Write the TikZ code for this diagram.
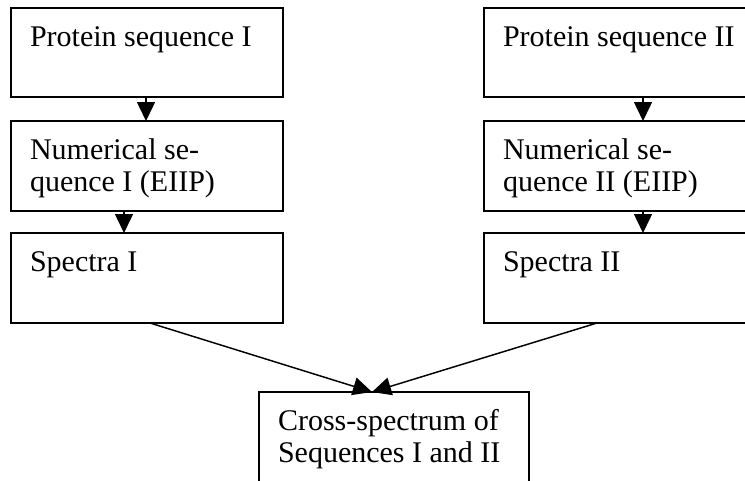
\documentclass[tikz,border=0pt]{standalone}
\usepackage{fontspec}
\setmainfont{Liberation Serif}
\usetikzlibrary{arrows.meta}
\begin{document}
\begin{tikzpicture}[x=0.75pt,y=-0.75pt,
  box/.style={draw,line width=1.4pt,rectangle,inner sep=0pt,outer sep=0pt},
  txt/.style={anchor=base west,inner sep=0pt,outer sep=0pt,align=left,
    font=\fontsize{22.5}{24}\selectfont,xshift=14.25pt,yshift=-28.5pt},
  txttwo/.style={txt,yshift=-24pt},
  arr/.style={line width=1.1pt,-{Triangle[length=14.25pt,width=13.5pt]}}]
\useasboundingbox[fill=white] (0,0) rectangle (745,480);
\node[box,minimum width=204pt,minimum height=66.75pt] (p1) at (147,52.5) {};
\node[box,minimum width=204pt,minimum height=67.5pt] (n1) at (147,166) {};
\node[box,minimum width=204pt,minimum height=67.5pt] (s1) at (147,278) {};
\node[box,minimum width=207pt,minimum height=66.75pt] (p2) at (622,52.5) {};
\node[box,minimum width=207pt,minimum height=67.5pt] (n2) at (622,166) {};
\node[box,minimum width=207pt,minimum height=67.5pt] (s2) at (622,278) {};
\node[box,minimum width=202.5pt,minimum height=81pt] (c) at (394,446) {};
\node[txt] (tp1) at (p1.north west) {Protein sequence I};
\node[txttwo] (tn1) at (n1.north west) {Numerical se-\\quence I (EIIP)};
\node[txt] (ts1) at (s1.north west) {Spectra I};
\node[txt] (tp2) at (p2.north west) {Protein sequence II};
\node[txttwo] (tn2) at (n2.north west) {Numerical se-\\quence II (EIIP)};
\node[txt] (ts2) at (s2.north west) {Spectra II};
\node[txttwo] (tc) at (c.north west) {Cross-spectrum of\\Sequences I and II};
\draw[arr] (p1.south -| 146,0) -- (n1.north -| 146,0);
\draw[arr] (n1.south -| 124,0) -- (s1.north -| 124,0);
\draw[arr] (p2.south -| 643,0) -- (n2.north -| 643,0);
\draw[arr] (n2.south -| 643,0) -- (s2.north -| 643,0);
\draw[arr] (s1.south -| 150,0) -- (c.north -| 372,0);
\draw[arr] (s2.south -| 597,0) -- (c.north -| 372,0);
\end{tikzpicture}
\end{document}
